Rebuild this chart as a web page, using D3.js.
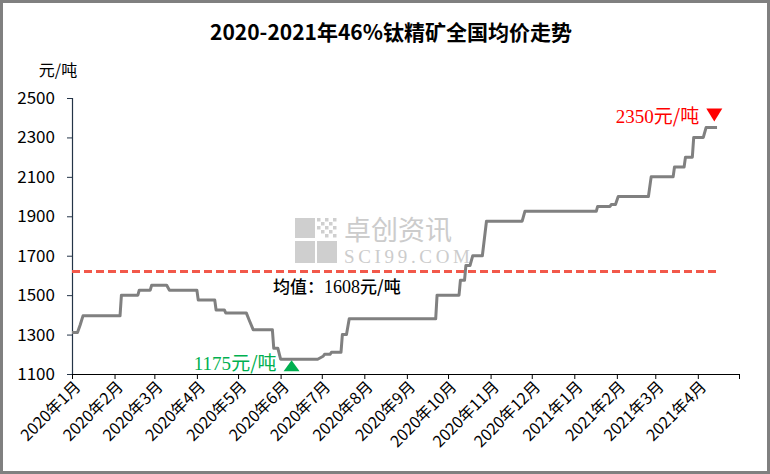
<!DOCTYPE html>
<html><head><meta charset="utf-8">
<script src="https://cdn.jsdelivr.net/npm/d3@7"></script>
<style>
html,body{margin:0;padding:0;background:#fff;}
svg{display:block;}
text{font-family:"Noto Sans CJK SC","Noto Sans",sans-serif;}
</style></head>
<body>
<svg id="chart" width="770" height="474"></svg>
<script>
const title = "2020-2021年46%钛精矿全国均价走势";
const unitLabel = "元/吨";
const dates = ["2020-01-01","2020-01-05","2020-01-07","2020-01-09","2020-02-05","2020-02-06","2020-02-18","2020-02-19","2020-02-27","2020-02-28","2020-03-10","2020-03-12","2020-04-01","2020-04-02","2020-04-14","2020-04-15","2020-04-21","2020-04-22","2020-05-07","2020-05-09","2020-05-12","2020-05-26","2020-05-27","2020-05-30","2020-06-01","2020-06-28","2020-07-02","2020-07-03","2020-07-07","2020-07-08","2020-07-15","2020-07-16","2020-07-19","2020-07-21","2020-09-22","2020-09-23","2020-10-09","2020-10-10","2020-10-13","2020-10-14","2020-10-17","2020-10-19","2020-10-26","2020-10-29","2020-11-24","2020-11-26","2021-01-17","2021-01-18","2021-01-27","2021-01-28","2021-01-31","2021-02-02","2021-02-24","2021-02-26","2021-03-14","2021-03-15","2021-03-22","2021-03-23","2021-03-28","2021-03-29","2021-04-05","2021-04-07","2021-04-15"];
const prices = [1310,1310,1350,1395,1395,1500,1500,1525,1525,1550,1550,1525,1525,1475,1475,1425,1425,1410,1410,1375,1325,1325,1230,1230,1175,1175,1190,1200,1200,1210,1210,1300,1300,1380,1380,1500,1500,1575,1575,1650,1650,1700,1700,1875,1875,1925,1925,1950,1950,1960,1960,2000,2000,2100,2100,2150,2150,2200,2200,2300,2300,2350,2350];
const yTicks = [1100,1300,1500,1700,1900,2100,2300,2500];
const monthStart = "2020-01-01", monthEnd = "2021-05-01";
const meanValue = 1608;          // labelled mean
const meanLineLevel = 1620;      // level at which the dashed line is drawn
const minMark = {date:"2020-06-09", value:1175, label:"1175元/吨"};
const maxMark = {date:"2021-04-13", value:2350, label:"2350元/吨"};

const parse = d3.timeParse("%Y-%m-%d");
const series = dates.map((d,i)=>({date:parse(d), value:prices[i]}));

const svg = d3.select("#chart");
const W = 770, H = 474;
const plot = {left:72, right:739, top:98, bottom:374};

// outer frame
svg.append("rect").attr("x",1.5).attr("y",1.5).attr("width",W-3).attr("height",H-3)
  .attr("fill","#fff").attr("stroke","#808080").attr("stroke-width",3);

const x = d3.scaleTime().domain([parse(monthStart), parse(monthEnd)]).range([plot.left, plot.right]);
const y = d3.scaleLinear().domain([1100,2500]).range([plot.bottom, plot.top]);

// watermark
const wm = svg.append("g").attr("fill","#cfcfcf");
wm.append("rect").attr("x",295).attr("y",218).attr("width",20).attr("height",20);
wm.append("rect").attr("x",295).attr("y",241).attr("width",20).attr("height",22);
wm.append("rect").attr("x",317).attr("y",241).attr("width",20).attr("height",22);
[[0,0],[2,0],[4,0],[1,1],[3,1],[0,2],[2,2],[4,2],[1,3],[3,3],[2,4],[4,4]].forEach(([i,j])=>{
  wm.append("rect").attr("x",317+i*4).attr("y",218+j*4).attr("width",3.5).attr("height",3.5);
});
wm.append("text").attr("x",344).attr("y",240).attr("font-size",27).attr("fill","#cccccc").text("卓创资讯");
wm.append("text").attr("x",344).attr("y",263).attr("font-size",19).attr("fill","#cccccc")
  .style("font-family","'Liberation Serif',serif").attr("textLength",126).text("SCI99.COM");

// title
svg.append("text").attr("x",391).attr("y",40).attr("text-anchor","middle")
  .attr("font-size",21).attr("font-weight","bold").attr("fill","#000").text(title);
svg.append("text").attr("x",58).attr("y",76).attr("text-anchor","middle")
  .attr("font-size",16).attr("fill","#000").text(unitLabel);

// y axis
const yAxis = svg.append("g").attr("transform",`translate(${plot.left},0)`)
  .call(d3.axisLeft(y).tickValues(yTicks).tickSize(5).tickPadding(12).tickFormat(d3.format("d")));
yAxis.select(".domain").attr("stroke","#243447").attr("stroke-width",1.2);
yAxis.selectAll(".tick line").attr("stroke","#243447");
yAxis.selectAll("text").attr("font-size",17).attr("fill","#000")
  .style("font-family","'Noto Sans CJK SC',sans-serif");

// x axis
const monthTicks = d3.timeMonth.range(parse(monthStart), d3.timeDay.offset(parse(monthEnd),1));
const fmt = d=> `${d.getFullYear()}年${d.getMonth()+1}月`;
const xAxis = svg.append("g").attr("transform",`translate(0,${plot.bottom})`)
  .call(d3.axisBottom(x).tickValues(monthTicks).tickSize(5).tickSizeOuter(0)
     .tickFormat(d=> d < parse(monthEnd) ? fmt(d) : ""));
xAxis.select(".domain").attr("stroke","#000").attr("stroke-width",1.2);
xAxis.selectAll(".tick line").attr("stroke","#000");
xAxis.selectAll("text").attr("font-size",16).attr("fill","#000")
  .style("font-family","'Noto Sans CJK SC',sans-serif")
  .attr("text-anchor","end").attr("dy",null).attr("y",0)
  .attr("transform","translate(9,14) rotate(-45)");

// mean line
svg.append("line")
  .attr("x1",x(series[0].date)).attr("x2",x(series[series.length-1].date))
  .attr("y1",y(meanLineLevel)).attr("y2",y(meanLineLevel))
  .attr("stroke","#f2584a").attr("stroke-width",3).attr("stroke-dasharray","8,4");
const meanT = svg.append("text").attr("x",273).attr("y",293).attr("font-size",17)
  .attr("font-weight",500).attr("fill","#000");
meanT.append("tspan").text("均值：");
meanT.append("tspan").style("font-family","'Liberation Serif',serif").attr("font-size",18).text(meanValue);
meanT.append("tspan").text("元/吨");

// series line
const line = d3.line().x(d=>x(d.date)).y(d=>y(d.value));
svg.append("path").datum(series).attr("d",line).attr("fill","none")
  .attr("stroke","#808080").attr("stroke-width",3).attr("stroke-linejoin","round");

// min annotation
const mx = x(parse(minMark.date)), my = y(minMark.value);
svg.append("path").attr("d",`M${mx-8},${my+12}L${mx+8},${my+12}L${mx},${my+1}Z`).attr("fill","#00b050");
const minT = svg.append("text").attr("x",mx-15).attr("y",my+11).attr("text-anchor","end")
  .attr("font-size",19).attr("fill","#00b050");
minT.append("tspan").style("font-family","'Liberation Serif',serif").text(minMark.label.replace(/元\/吨/,""));
minT.append("tspan").text("元/吨");

// max annotation
const Mx = x(parse(maxMark.date)), My = y(maxMark.value);
svg.append("path").attr("d",`M${Mx-8},${My-19}L${Mx+8},${My-19}L${Mx},${My-6}Z`).attr("fill","#ff0000");
const maxT = svg.append("text").attr("x",Mx-15).attr("y",My-5).attr("text-anchor","end")
  .attr("font-size",19).attr("fill","#ff0000");
maxT.append("tspan").style("font-family","'Liberation Serif',serif").text(maxMark.label.replace(/元\/吨/,""));
maxT.append("tspan").text("元/吨");
</script>
</body></html>
